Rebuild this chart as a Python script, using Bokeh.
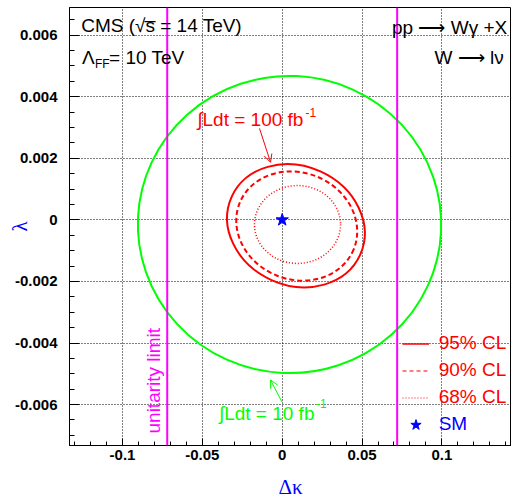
import math
import numpy as np
from bokeh.plotting import figure
from bokeh.models import (Range1d, FixedTicker, Label, Span, Arrow, OpenHead,
                          Legend, LegendItem)
from bokeh.embed import file_html
from bokeh.resources import INLINE

# ---------------- data ----------------
x_ticks = [-0.1, -0.05, 0.0, 0.05, 0.1]
x_tick_labels = ["-0.1", "-0.05", "0", "0.05", "0.1"]
y_ticks = [-0.006, -0.004, -0.002, 0.0, 0.002, 0.004, 0.006]
y_tick_labels = ["-0.006", "-0.004", "-0.002", "0", "0.002", "0.004", "0.006"]

# confidence contours: (10 fb-1 95% CL, 100 fb-1 95%, 90%, 68% CL)
contour_names = ["10 fb-1 95% CL", "100 fb-1 95% CL", "100 fb-1 90% CL", "100 fb-1 68% CL"]
contour_dk = [0.0046, 0.0086, 0.0091, 0.0096]
contour_lam = [-0.00015, -0.00019, -0.00020, -0.00015]
contour_width = [0.190, 0.0883, 0.0771, 0.0539]
contour_height = [0.00966, 0.00387, 0.00347, 0.00253]
contour_angle = [-0.05, -0.423, -0.386, 0.0]

# unitarity limits on delta kappa
unitarity_dk = [-0.072, 0.072]

# Standard Model point
sm_dk = [0.0]
sm_lam = [0.0]

legend_labels = ["95% CL", "90% CL", "68% CL"]

GREEN = "#00ff00"

# ---------------- figure ----------------
p = figure(width=511, height=502,
           x_range=Range1d(-0.1332, 0.1436), y_range=Range1d(-0.00733, 0.0069),
           output_backend="svg", toolbar_location=None,
           min_border_left=69, min_border_right=0, min_border_top=7, min_border_bottom=57)
p.background_fill_color = "white"
p.border_fill_color = "white"
p.outline_line_color = "black"
p.outline_line_width = 1

xminor = [round(v, 4) for v in np.arange(-0.13, 0.1401, 0.01)]
yminor = [round(v, 5) for v in np.arange(-0.007, 0.00651, 0.0005)]
p.xaxis.ticker = FixedTicker(ticks=x_ticks, minor_ticks=xminor)
p.yaxis.ticker = FixedTicker(ticks=y_ticks, minor_ticks=yminor)
p.xaxis.major_label_overrides = {t: l for t, l in zip(x_ticks, x_tick_labels)}
p.yaxis.major_label_overrides = {t: l for t, l in zip(y_ticks, y_tick_labels)}
p.xgrid.ticker = FixedTicker(ticks=x_ticks)
p.ygrid.ticker = FixedTicker(ticks=y_ticks)
for g in (p.xgrid, p.ygrid):
    g.grid_line_color = "black"
    g.grid_line_dash = "1 2"
    g.grid_line_width = 1
    g.grid_line_alpha = 1.0

for ax in (p.xaxis, p.yaxis):
    ax.axis_line_color = "black"
    ax.major_tick_out = 0
    ax.minor_tick_out = 0
    ax.major_tick_line_color = "black"
    ax.minor_tick_line_color = "black"
    ax.major_label_text_font = "Liberation Sans"
    ax.major_label_text_font_style = "bold"
    ax.major_label_text_font_size = "15px"
    ax.major_label_text_color = "black"
    ax.axis_label_text_font = "Liberation Serif"
    ax.axis_label_text_font_style = "normal"
    ax.axis_label_text_font_size = "21px"
    ax.axis_label_text_color = "blue"
p.xaxis.major_tick_in = 7
p.xaxis.minor_tick_in = 4
p.yaxis.major_tick_in = 10
p.yaxis.minor_tick_in = 5
p.xaxis.major_label_standoff = 4
p.yaxis.major_label_standoff = 12
p.xaxis.axis_label = "\u0394\u03ba"
p.yaxis.axis_label = "\u03bb"
p.xaxis.axis_label_standoff = 12
p.yaxis.axis_label_standoff = -20

# ---------------- contours ----------------
styles = [
    dict(line_color=GREEN, line_width=2),
    dict(line_color="red", line_width=2),
    dict(line_color="red", line_width=2, line_dash="5 3"),
    dict(line_color="red", line_width=1.5, line_dash="1 2"),
]
for i in range(len(contour_names)):
    p.ellipse(x=[contour_dk[i]], y=[contour_lam[i]], width=[contour_width[i]],
              height=[contour_height[i]], angle=[contour_angle[i]],
              fill_color=None, **styles[i])

for v in unitarity_dk:
    p.add_layout(Span(location=v, dimension="height", line_color="#ff00ff", line_width=2))

sm = p.scatter(x=sm_dk, y=sm_lam, marker="star", size=13, fill_color="blue", line_color="blue")

# ---------------- legend ----------------
nan = [float("nan")]
l95 = p.line(x=nan, y=nan, line_color="red", line_width=1.5)
l90 = p.line(x=nan, y=nan, line_color="red", line_width=1.2, line_dash="4 3")
l68 = p.line(x=nan, y=nan, line_color="red", line_width=1, line_dash="1 2")
leg_common = dict(padding=0, margin=0, spacing=0, border_line_color=None,
                  background_fill_alpha=0, glyph_width=27, glyph_height=27,
                  label_height=27, label_standoff=10, label_text_font="Liberation Sans",
                  label_text_font_size="19px")
leg1 = Legend(items=[LegendItem(label=legend_labels[0], renderers=[l95]),
                     LegendItem(label=legend_labels[1], renderers=[l90]),
                     LegendItem(label=legend_labels[2], renderers=[l68])],
              location=(332.7, 34.5), label_text_color="red", **leg_common)
leg2 = Legend(items=[LegendItem(label="SM", renderers=[sm])],
              location=(332.7, 7.5), label_text_color="blue", **leg_common)
p.add_layout(leg1)
p.add_layout(leg2)

# ---------------- texts ----------------
def lab(x, y, text, color="black", size="19px", align="left", baseline="middle",
        angle=0.0, font="Liberation Sans"):
    p.add_layout(Label(x=x, y=y, text=text, text_color=color, text_font_size=size,
                       text_align=align, text_baseline=baseline, angle=angle,
                       text_font=font))

lab(-0.1259, 0.00631, "CMS (\u221as\u0305 = 14 TeV)")
lab(-0.1253, 0.00527, "\u039b")
lab(-0.1173, 0.00505, "FF", size="12px")
lab(-0.1084, 0.00527, "= 10 TeV")
lab(0.1409, 0.00626, "pp \u27f6 W\u03b3 +X", align="right")
lab(0.1388, 0.00527, "W \u27f6 l\u03bd", align="right")

lab(0.0133, 0.003265, "\u222bLdt = 100 fb", color="red", align="right")
lab(0.0146, 0.0035, "-1", color="red", size="12px")
lab(0.0202, -0.006277, "\u222bLdt = 10 fb", color=GREEN, align="right")
lab(0.0212, -0.00598, "-1", color=GREEN, size="12px")

lab(-0.0808, -0.00694, "unitarity limit", color="#ff00ff", angle=math.pi / 2)

# arrows
p.add_layout(Arrow(end=OpenHead(size=8, line_color="red", line_width=1),
                   x_start=-0.0142, y_start=0.00297, x_end=-0.0073, y_end=0.00187,
                   line_color="red", line_width=1))
p.add_layout(Arrow(end=OpenHead(size=8, line_color=GREEN, line_width=1),
                   x_start=0.0, y_start=-0.00593, x_end=-0.0073, y_end=-0.00520,
                   line_color=GREEN, line_width=1))

open("out.html", "w").write(file_html(p, INLINE))
